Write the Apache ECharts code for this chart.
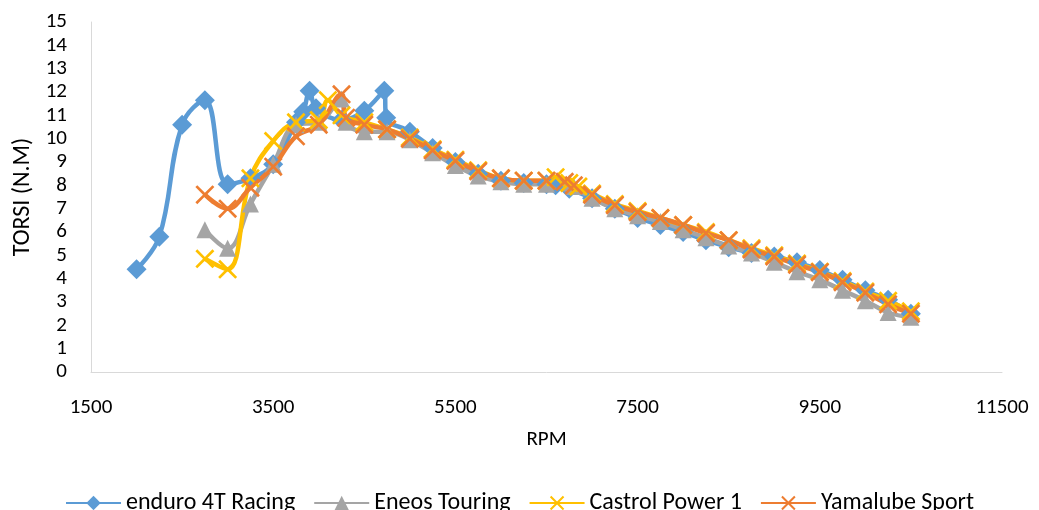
<!DOCTYPE html>
<html>
<head>
<meta charset="utf-8">
<script src="https://cdn.jsdelivr.net/npm/echarts@6/dist/echarts.min.js"></script>
<style>html,body{margin:0;padding:0;background:#fff;}#c{width:1039px;height:510px;}</style>
</head>
<body>
<div id="c"></div>
<script>
const seriesNames = ['enduro 4T Racing', 'Eneos Touring', 'Castrol Power 1', 'Yamalube Sport'];
const xTicks = [1500, 3500, 5500, 7500, 9500, 11500];

// [RPM, torque] pairs
const enduroRpm = [2000,2250,2500,2750,3000,3250,3500,3750,3830,3900,3970,4250,4500,4720,4740,5000,5250,5500,5750,6000,6250,6500,6600,6750,7000,7250,7500,7750,8000,8250,8500,8750,9000,9250,9500,9750,10000,10250,10500];
const enduroTq  = [4.4,5.8,10.6,11.65,8.05,8.3,8.9,10.7,11.15,12.05,11.3,10.8,11.2,12.05,10.9,10.3,9.6,9.0,8.5,8.2,8.1,8.05,8.0,7.85,7.45,7.0,6.6,6.3,6.0,5.65,5.35,5.1,4.95,4.7,4.37,3.95,3.5,3.1,2.5];

const eneosRpm = [2750,3000,3250,3500,3750,4000,4250,4300,4500,4750,5000,5250,5500,5750,6000,6250,6500,6750,6800,7000,7250,7500,7750,8000,8250,8500,8750,9000,9250,9500,9750,10000,10250,10500];
const eneosTq  = [6.1,5.3,7.2,8.9,10.6,10.7,11.7,10.7,10.3,10.3,9.95,9.4,8.85,8.4,8.15,8.05,8.05,8.1,7.95,7.45,7.0,6.7,6.45,6.1,5.75,5.4,5.1,4.7,4.3,3.95,3.5,3.05,2.55,2.35];

const castrolRpm = [2750,3000,3250,3500,3750,4000,4100,4250,4500,4750,5000,5250,5500,5750,6000,6250,6500,6600,6750,6850,7000,7250,7500,7750,8000,8250,8500,8750,9000,9250,9500,9750,10000,10250,10500];
const castrolTq  = [4.85,4.4,8.3,9.9,10.7,10.8,11.65,11.0,10.7,10.4,10.05,9.55,9.1,8.65,8.3,8.2,8.2,8.35,8.1,7.95,7.65,7.2,6.9,6.6,6.3,6.0,5.65,5.3,5.0,4.65,4.3,3.9,3.45,3.05,2.6];

const yamalubeRpm = [2750,3000,3250,3500,3750,4000,4250,4300,4500,4750,5000,5250,5500,5750,6000,6250,6500,6700,6800,7000,7250,7500,7750,8000,8250,8500,8750,9000,9250,9500,9750,10000,10250,10500];
const yamalubeTq  = [7.6,7.0,7.9,8.8,10.1,10.6,11.9,10.9,10.6,10.4,10.0,9.5,9.05,8.6,8.3,8.2,8.2,8.15,8.0,7.6,7.15,6.85,6.6,6.3,5.95,5.65,5.25,4.95,4.6,4.28,3.85,3.4,2.9,2.5];

const colors = ['#5B9BD5', '#A5A5A5', '#FFC000', '#ED7D31'];
const FONT = 'Carlito, Lato, sans-serif';
const xPath = 'path://M0,1L1,0L5,4L9,0L10,1L6,5L10,9L9,10L5,6L1,10L0,9L4,5Z';

function pairs(xs, ys) { return xs.map((x, i) => [x, ys[i]]); }

const rpmSets = [enduroRpm, eneosRpm, castrolRpm, yamalubeRpm];
const tqSets = [enduroTq, eneosTq, castrolTq, yamalubeTq];
const symbols = ['diamond', 'triangle', xPath, xPath];
const symbolSizes = [20, 17, 19, 19];

const chart = echarts.init(document.getElementById('c'), null, {renderer: 'canvas'});
chart.setOption({
  animation: false,
  color: colors,
  textStyle: {fontFamily: FONT},
  grid: {left: 91, right: 37, top: 22, bottom: 138},
  legend: {
    top: 486,
    left: 'center',
    itemWidth: 55,
    itemHeight: 18,
    itemGap: 18,
    textStyle: {fontFamily: FONT, fontSize: 24, color: '#000'},
    data: seriesNames
  },
  xAxis: {
    type: 'value',
    min: xTicks[0],
    max: xTicks[xTicks.length - 1],
    interval: 2000,
    name: 'RPM',
    nameLocation: 'middle',
    nameGap: 57,
    nameTextStyle: {fontFamily: FONT, fontSize: 21, color: '#000'},
    axisLine: {show: true, lineStyle: {color: '#D9D9D9', width: 1}},
    axisTick: {show: false},
    splitLine: {show: false},
    axisLabel: {fontFamily: FONT, fontSize: 21, color: '#000', margin: 25, formatter: v => String(v)}
  },
  yAxis: {
    type: 'value',
    min: 0,
    max: 15,
    interval: 1,
    name: 'TORSI (N.M)',
    nameLocation: 'middle',
    nameGap: 56,
    nameTextStyle: {fontFamily: FONT, fontSize: 24, color: '#000'},
    axisLine: {show: true, lineStyle: {color: '#D9D9D9', width: 1}},
    axisTick: {show: false},
    splitLine: {show: false},
    axisLabel: {fontFamily: FONT, fontSize: 21, color: '#000', margin: 24}
  },
  series: seriesNames.map((name, i) => ({
    name: name,
    type: 'line',
    smooth: 0.4,
    data: pairs(rpmSets[i], tqSets[i]),
    symbol: symbols[i],
    symbolSize: symbolSizes[i],
    showAllSymbol: true,
    lineStyle: {width: 4.5, color: colors[i]},
    itemStyle: {color: colors[i], borderColor: colors[i], borderWidth: 0}
  }))
});
</script>
</body>
</html>
